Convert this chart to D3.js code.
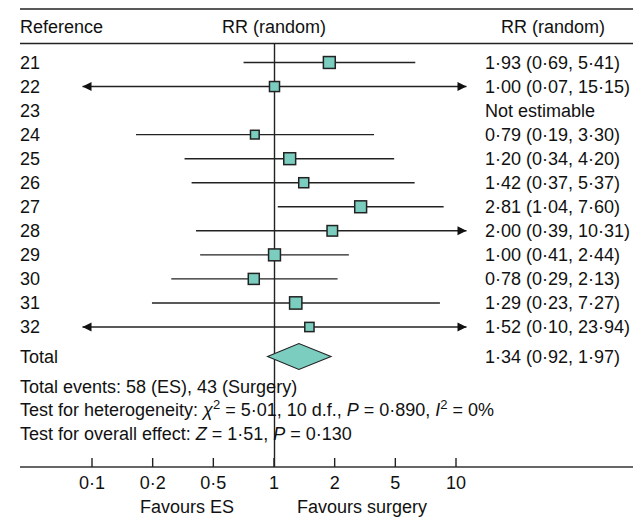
<!DOCTYPE html>
<html>
<head>
<meta charset="utf-8">
<script src="https://cdn.jsdelivr.net/npm/d3@7"></script>
<style>
body { margin: 0; background: #fff; }
text { font-family: "Liberation Sans", Arial, Helvetica, sans-serif; font-size: 18px; fill: #111; }
</style>
</head>
<body>
<div id="chart"></div>
<script>
// Study data (RR random, 95% CI)
var studies = ["21", "22", "23", "24", "25", "26", "27", "28", "29", "30", "31", "32"];
var rr    = [1.93, 1.00, null, 0.79, 1.20, 1.42, 2.81, 2.00, 1.00, 0.78, 1.29, 1.52];
var lower = [0.69, 0.07, null, 0.19, 0.34, 0.37, 1.04, 0.39, 0.41, 0.29, 0.23, 0.10];
var upper = [5.41, 15.15, null, 3.30, 4.20, 5.37, 7.60, 10.31, 2.44, 2.13, 7.27, 23.94];
// relative weight of each study (square area)
var weights = [14, 10, 0, 7.5, 14, 10, 14, 11, 14, 12, 15, 8.5];

var totalRR = [1.34, 0.92, 1.97];

var tickValues = [0.1, 0.2, 0.5, 1, 2, 5, 10];
var tickLabels = ["0·1", "0·2", "0·5", "1", "2", "5", "10"];

var width = 639;
var height = 518;
var left = 20, right = 633;

var svg = d3.select("#chart")
    .append("svg")
    .attr("width", width)
    .attr("height", height);

// number format with the middle dot decimal
var fmt = function(v) { return d3.format(".2f")(v).replace(".", "·"); };

// scales
var xScale = d3.scaleLog()
    .domain([0.1, 10])
    .range([82.5, 466.5]);

var yScale = d3.scalePoint()
    .domain(studies)
    .range([62.5, 327]);

var totalY = 356.5;

var sizeScale = d3.scaleSqrt()
    .domain([0, d3.max(weights)])
    .range([0, 12.3]);

// horizontal rules
svg.append("line")
    .attr("x1", left).attr("x2", right)
    .attr("y1", 9).attr("y2", 9)
    .attr("stroke", "#222").attr("stroke-width", 1.5);

svg.append("line")
    .attr("x1", left).attr("x2", right)
    .attr("y1", 43.5).attr("y2", 43.5)
    .attr("stroke", "#222").attr("stroke-width", 1.5);

// headers
svg.append("text").attr("x", left).attr("y", 33).text("Reference");
svg.append("text").attr("x", 274).attr("y", 33).attr("text-anchor", "middle").text("RR (random)");
svg.append("text").attr("x", 553).attr("y", 33).attr("text-anchor", "middle").text("RR (random)");

// line of no effect
svg.append("line")
    .attr("x1", xScale(1)).attr("x2", xScale(1))
    .attr("y1", 43.5).attr("y2", 467)
    .attr("stroke", "#222").attr("stroke-width", 1.4);

// rows
var rows = studies.map(function(s, i) {
    return { id: s, rr: rr[i], lo: lower[i], hi: upper[i], w: weights[i] };
});

var row = svg.selectAll("g.row")
    .data(rows)
    .enter()
    .append("g")
    .attr("class", "row")
    .attr("transform", function(d) { return "translate(0," + yScale(d.id) + ")"; });

row.append("text")
    .attr("x", left)
    .attr("dy", "0.36em")
    .text(function(d) { return d.id; });

row.append("text")
    .attr("x", 485)
    .attr("dy", "0.36em")
    .text(function(d) {
        if (d.rr === null) return "Not estimable";
        return fmt(d.rr) + " (" + fmt(d.lo) + ", " + fmt(d.hi) + ")";
    });

var est = row.filter(function(d) { return d.rr !== null; });

// confidence intervals, clipped to the axis range
est.append("line")
    .attr("x1", function(d) { return xScale(Math.max(d.lo, 0.1)); })
    .attr("x2", function(d) { return xScale(Math.min(d.hi, 10)); })
    .attr("stroke", "#222")
    .attr("stroke-width", 1.4);

// arrows when the CI runs off the scale
est.filter(function(d) { return d.lo <= 0.1; })
    .append("path")
    .attr("d", function() {
        var x = xScale(0.1);
        return "M" + x + ",0L" + (x + 9) + ",-4.5L" + (x + 9) + ",4.5Z";
    })
    .attr("fill", "#111");

est.filter(function(d) { return d.hi >= 10; })
    .append("path")
    .attr("d", function() {
        var x = xScale(10);
        return "M" + x + ",0L" + (x - 9) + ",-4.5L" + (x - 9) + ",4.5Z";
    })
    .attr("fill", "#111");

// weighted squares
est.append("rect")
    .attr("x", function(d) { return xScale(d.rr) - sizeScale(d.w) / 2; })
    .attr("y", function(d) { return -sizeScale(d.w) / 2; })
    .attr("width", function(d) { return sizeScale(d.w); })
    .attr("height", function(d) { return sizeScale(d.w); })
    .attr("fill", "#7acdbf")
    .attr("stroke", "#222")
    .attr("stroke-width", 1.5);

// total
svg.append("text").attr("x", left).attr("y", totalY).attr("dy", "0.36em").text("Total");
svg.append("text").attr("x", 485).attr("y", totalY).attr("dy", "0.36em")
    .text(fmt(totalRR[0]) + " (" + fmt(totalRR[1]) + ", " + fmt(totalRR[2]) + ")");

svg.append("path")
    .attr("d", "M" + xScale(totalRR[1]) + "," + totalY +
               "L" + xScale(totalRR[0]) + "," + (totalY - 13) +
               "L" + xScale(totalRR[2]) + "," + totalY +
               "L" + xScale(totalRR[0]) + "," + (totalY + 13) + "Z")
    .attr("fill", "#7acdbf")
    .attr("stroke", "#222")
    .attr("stroke-width", 1.1);

// summary statistics
svg.append("text").attr("x", left).attr("y", 393)
    .text("Total events: 58 (ES), 43 (Surgery)");

var het = svg.append("text").attr("x", left).attr("y", 416);
het.append("tspan").text("Test for heterogeneity: ");
het.append("tspan").attr("font-style", "italic").text("χ");
het.append("tspan").attr("font-size", "13px").attr("dy", -7).text("2");
het.append("tspan").attr("dy", 7).text(" = 5·01, 10 d.f., ");
het.append("tspan").attr("font-style", "italic").text("P");
het.append("tspan").text(" = 0·890, ");
het.append("tspan").attr("font-style", "italic").text("I");
het.append("tspan").attr("font-size", "13px").attr("dy", -7).text("2");
het.append("tspan").attr("dy", 7).text(" = 0%");

var ove = svg.append("text").attr("x", left).attr("y", 440);
ove.append("tspan").text("Test for overall effect: ");
ove.append("tspan").attr("font-style", "italic").text("Z");
ove.append("tspan").text(" = 1·51, ");
ove.append("tspan").attr("font-style", "italic").text("P");
ove.append("tspan").text(" = 0·130");

// bottom axis
var tickScale = d3.scalePoint()
    .domain(tickLabels)
    .range([91.5, 455.5]);

svg.append("line")
    .attr("x1", left).attr("x2", right)
    .attr("y1", 467).attr("y2", 467)
    .attr("stroke", "#333").attr("stroke-width", 1.7);

var axis = svg.append("g")
    .attr("transform", "translate(0,467)")
    .call(d3.axisBottom(tickScale).tickSizeInner(-9).tickSizeOuter(0).tickPadding(9));

axis.select(".domain").remove();
axis.selectAll(".tick line").attr("stroke", "#222").attr("stroke-width", 1.4);
axis.selectAll(".tick text")
    .attr("font-family", null)
    .attr("font-size", null)
    .attr("fill", "#111");

svg.append("text").attr("x", 187).attr("y", 513).attr("text-anchor", "middle").text("Favours ES");
svg.append("text").attr("x", 362).attr("y", 513).attr("text-anchor", "middle").text("Favours surgery");
</script>
</body>
</html>
